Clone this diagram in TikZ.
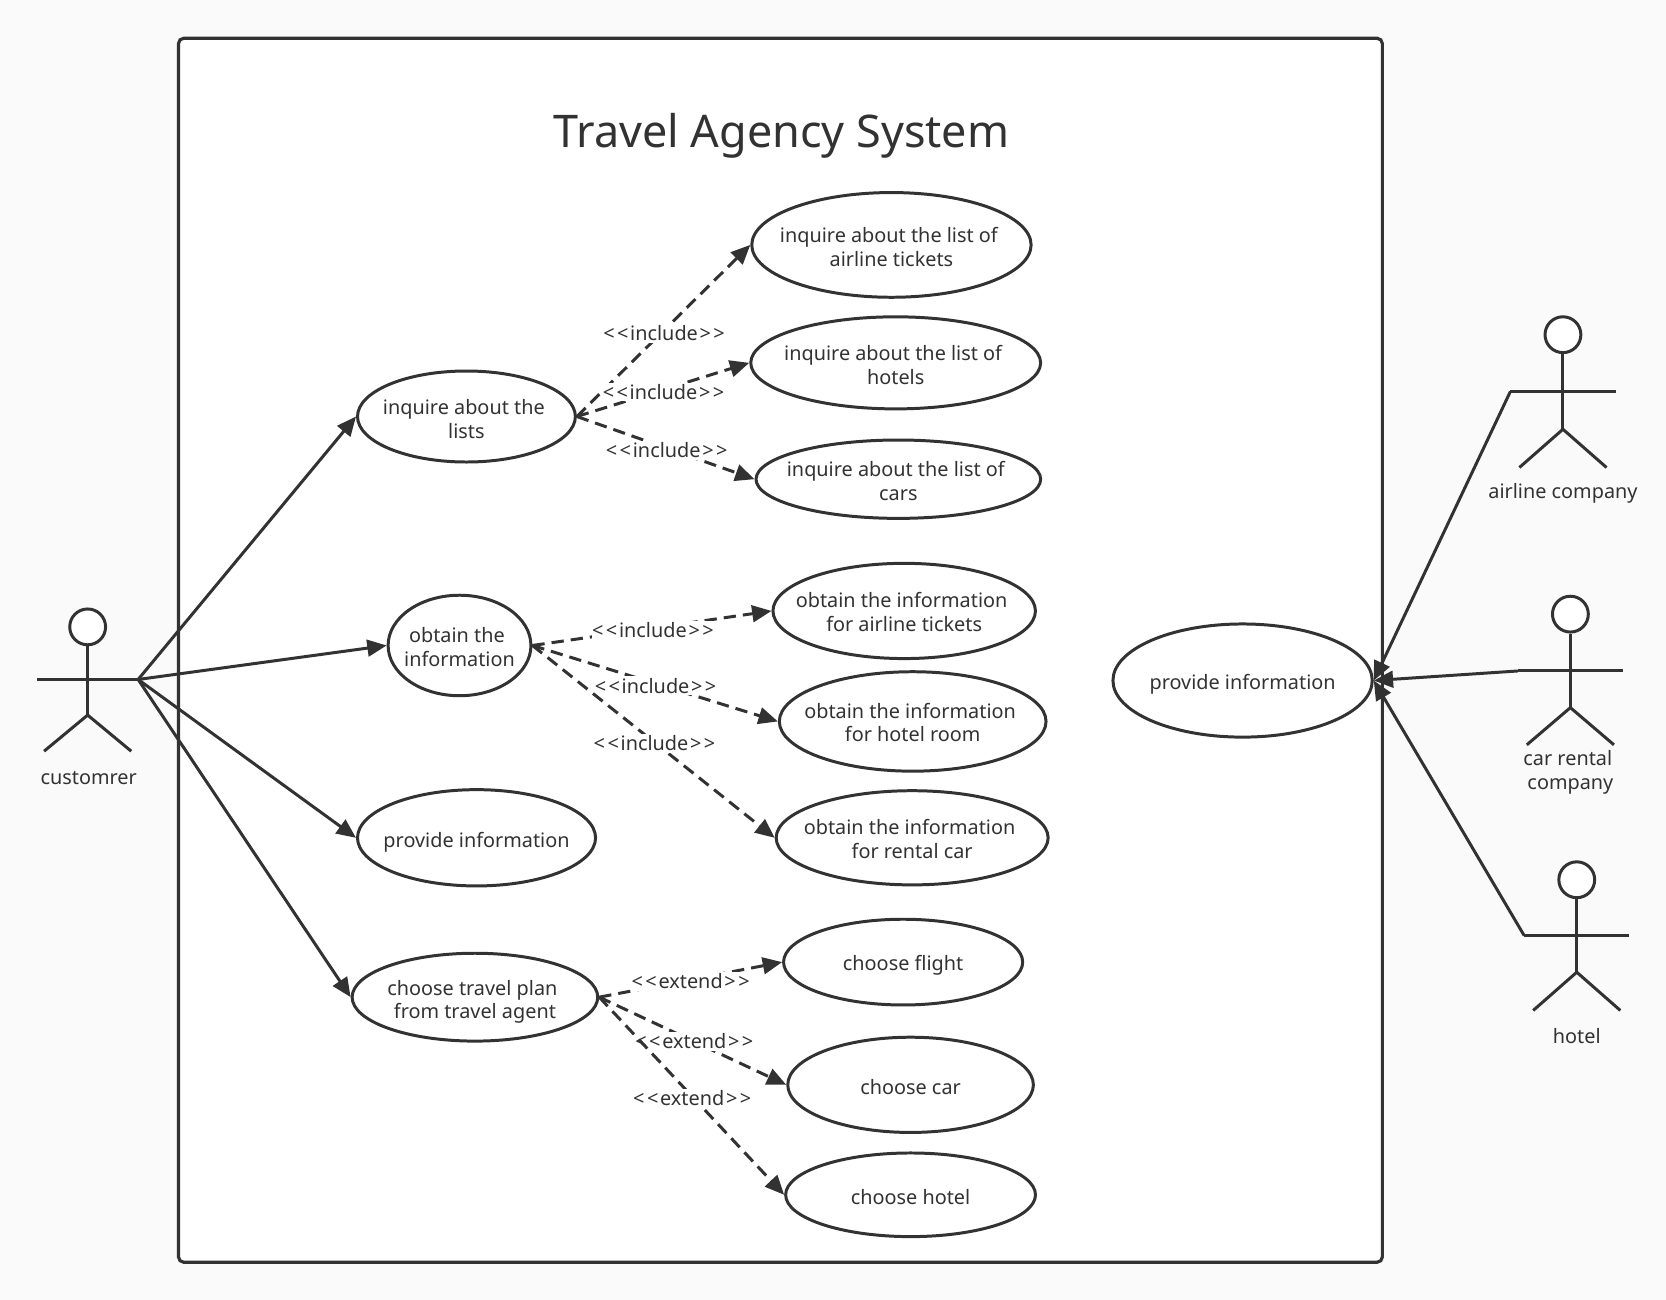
\documentclass[tikz,border=0pt]{standalone}
\usepackage{fontspec}
\setmainfont{Noto Sans}
\usetikzlibrary{shapes.geometric,arrows.meta}
\definecolor{ink}{HTML}{323232}
\definecolor{paper}{HTML}{FAFAFA}
\tikzset{
  uc/.style={ellipse,draw=ink,fill=white,line width=1.7pt,inner sep=0pt},
  txt/.style={text=ink,inner sep=0pt,align=center,font=\fontsize{11.3pt}{13.55pt}\selectfont},
  lbl/.style={txt,fill=white,inner ysep=1pt},
  limb/.style={draw=ink,line width=1.7pt},
  head/.style={circle,draw=ink,fill=white,line width=1.7pt,inner sep=0pt,minimum size=20.4pt},
  assoc/.style={draw=ink,line width=1.7pt,-{Triangle[length=11pt,width=9.5pt,fill=ink]}},
  dep/.style={draw=ink,line width=1.7pt,dash pattern=on 7pt off 4pt,-{Triangle[length=11pt,width=9.5pt,fill=ink]}}
}
\newcommand{\uclbl}[1]{\mbox{<\kern1.4pt<\kern1pt#1\kern1pt>\kern1.4pt>}}
\newcommand{\tsp}{\ \mbox{}}
\newcommand{\stick}[7]{% name, x, head y, arm y, hip y, foot y, half arm
  \node[head] (#1h) at (#2,#3) {};
  \draw[limb] (#1h.south) -- (#2,#5);
  \coordinate (#1a) at (#2-#7,#4);
  \coordinate (#1b) at (#2+#7,#4);
  \draw[limb] (#1a) -- (#1b);
  \draw[limb] (#2-41,#6) -- (#2,#5) -- (#2+41,#6);
}
\begin{document}
\begin{tikzpicture}[x=0.02125cm,y=-0.02125cm]
\useasboundingbox (0,0) rectangle (1568,1223.5);
\fill[paper] (0,0) rectangle (1568,1223.5);
\draw[ink,fill=white,line width=1.8pt,rounded corners=3pt] (168,36) rectangle (1301,1188);
\node[txt,font=\fontsize{25.6pt}{30pt}\selectfont] (title) at (735.5,128) {Travel Agency System};

% use cases
\node[uc,minimum width=159pt,minimum height=59.6pt,label={[txt,yshift=-1.3pt]center:{inquire about the list of\tsp\\airline tickets}}] (e1) at (839,230.5) {};
\node[uc,minimum width=165pt,minimum height=52.4pt,label={[txt,yshift=-1.3pt]center:{inquire about the list of\tsp\\hotels}}] (e2) at (843,341.5) {};
\node[uc,minimum width=162pt,minimum height=44.6pt,label={[txt,yshift=-1pt]center:{inquire about the list of\tsp\\cars}}] (e3) at (845.5,451) {};
\node[uc,minimum width=124pt,minimum height=51.8pt,label={[txt,yshift=-1.5pt]center:{inquire about the\tsp\\lists}}] (e4) at (439,392) {};
\node[uc,minimum width=81.3pt,minimum height=57.2pt,label={[txt,yshift=-1pt]center:{obtain the\tsp\\information}}] (e5) at (432.5,607.5) {};
\node[uc,minimum width=149.4pt,minimum height=54.2pt,label={[txt,yshift=-0.5pt]center:{obtain the information\tsp\\for airline tickets}}] (e6) at (851,575) {};
\node[uc,minimum width=151.8pt,minimum height=56.6pt,label={[txt,yshift=-0.6pt]center:{obtain the information\tsp\\for hotel room}}] (e7) at (859,679) {};
\node[uc,minimum width=154.8pt,minimum height=53.6pt,label={[txt,yshift=-0.6pt]center:{obtain the information\tsp\\for rental car}}] (e8) at (858.5,788.5) {};
\node[uc,minimum width=135.5pt,minimum height=54.8pt,label={[txt,yshift=-2.4pt]center:{provide information}}] (e9) at (448.5,788.5) {};
\node[uc,minimum width=139.8pt,minimum height=50pt,label={[txt,yshift=-2.6pt]center:{choose travel plan\tsp\\from travel agent}}] (e10) at (447,938.5) {};
\node[uc,minimum width=136.1pt,minimum height=48.8pt,label={[txt,yshift=-1.8pt]center:{choose flight}}] (e11) at (850,905.5) {};
\node[uc,minimum width=139.8pt,minimum height=54.2pt,label={[txt,yshift=-1.2pt]center:{choose car}}] (e12) at (857,1021) {};
\node[uc,minimum width=142.2pt,minimum height=47.6pt,label={[txt,yshift=-1.2pt]center:{choose hotel}}] (e13) at (857,1124.5) {};
\node[uc,minimum width=147.6pt,minimum height=64.4pt,label={[txt,yshift=-2.4pt]center:{provide information}}] (e14) at (1169.5,640.5) {};

% actors
\stick{cu}{82.5}{590}{639.5}{673}{707}{47.5}
\stick{ai}{1471}{315}{368.5}{404}{440}{49.5}
\stick{ca}{1478}{578}{631.5}{666}{701}{49.5}
\stick{ho}{1484}{828}{880.5}{915}{951}{49.5}
\node[txt] (lcu) at (83.5,732) {customrer};
\node[txt] (lai) at (1471,464) {airline company};
\node[txt] (lca) at (1478,727) {car rental\tsp\\company};
\node[txt] (lho) at (1484,975) {hotel};

% associations
\foreach \t in {e4,e5,e9,e10} \draw[assoc] (cub) -- (\t.west);
\foreach \s in {ai,ca,ho} \draw[assoc] (\s a) -- (e14.east);

% dependencies
\draw[dep] (e4.east) -- (e1.west);
\node[lbl] (i1) at (625,313.5) {\uclbl{include}};
\draw[dep] (e4.east) -- (e2.west);
\node[lbl] (i2) at (624.5,369) {\uclbl{include}};
\draw[dep] (e4.east) -- (e3.west);
\node[lbl] (i3) at (627.5,424) {\uclbl{include}};
\draw[dep] (e5.east) -- (e6.west);
\node[lbl] (i4) at (614.5,593) {\uclbl{include}};
\draw[dep] (e5.east) -- (e7.west);
\node[lbl] (i5) at (617,645.5) {\uclbl{include}};
\draw[dep] (e5.east) -- (e8.west);
\node[lbl] (i6) at (616,699.5) {\uclbl{include}};
\draw[dep] (e10.east) -- (e11.west);
\node[lbl] (x1) at (650,923.5) {\uclbl{extend}};
\draw[dep] (e10.east) -- (e12.west);
\node[lbl] (x2) at (653.5,980) {\uclbl{extend}};
\draw[dep] (e10.east) -- (e13.west);
\node[lbl] (x3) at (651.5,1033.5) {\uclbl{extend}};
\end{tikzpicture}
\end{document}
